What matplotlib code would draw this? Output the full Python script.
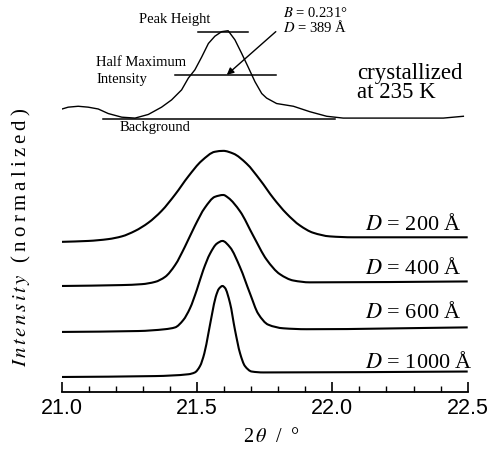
import matplotlib
matplotlib.use("Agg")
import matplotlib.pyplot as plt
from matplotlib.path import Path
from matplotlib.patches import PathPatch
import numpy as np

plt.rcParams['font.family'] = ['Liberation Serif', 'DejaVu Serif']
plt.rcParams['mathtext.fontset'] = 'stix'

# ---------------- data ----------------
# measured profile (crystallized at 235 K), intensity relative to background
meas_x = [20.99, 21.024, 21.061, 21.098, 21.135, 21.172, 21.222, 21.271, 21.320,
          21.369, 21.406, 21.443, 21.468, 21.492, 21.517, 21.542, 21.566, 21.591,
          21.615, 21.640, 21.665, 21.689, 21.714, 21.739, 21.757, 21.794, 21.856,
          21.917, 21.979, 22.040, 22.164, 22.287, 22.410, 22.484]
meas_i = [0.10, 0.13, 0.14, 0.13, 0.11, 0.06, 0.02, 0.01, 0.05,
          0.13, 0.21, 0.32, 0.45, 0.54, 0.68, 0.83, 0.91, 0.96,
          0.97, 0.87, 0.72, 0.57, 0.41, 0.28, 0.23, 0.17, 0.14,
          0.08, 0.03, 0.01, 0.01, 0.01, 0.01, 0.03]
meas_offset = 3.0

# simulated profiles
d200_x = [21.0, 21.098, 21.172, 21.222, 21.271, 21.320, 21.369, 21.419, 21.468,
          21.517, 21.566, 21.597, 21.634, 21.683, 21.733, 21.782, 21.831, 21.880,
          21.929, 21.991, 22.077, 22.5]
d200_i = [0.00, 0.01, 0.03, 0.06, 0.12, 0.21, 0.34, 0.52, 0.72,
          0.89, 0.99, 1.00, 0.97, 0.86, 0.68, 0.48, 0.31, 0.18,
          0.10, 0.06, 0.05, 0.05]

d400_x = [21.0, 21.222, 21.296, 21.345, 21.382, 21.419, 21.455, 21.492, 21.529,
          21.566, 21.597, 21.615, 21.659, 21.708, 21.757, 21.806, 21.856, 21.917, 22.5]
d400_i = [0.00, 0.01, 0.02, 0.045, 0.10, 0.23, 0.43, 0.66, 0.86,
          0.98, 1.00, 0.97, 0.82, 0.55, 0.29, 0.13, 0.06, 0.04, 0.05]

d600_x = [21.0, 21.283, 21.382, 21.419, 21.449, 21.474, 21.499, 21.523, 21.548,
          21.573, 21.594, 21.622, 21.659, 21.696, 21.726, 21.763, 21.819, 21.905, 22.5]
d600_i = [0.00, 0.01, 0.03, 0.05, 0.13, 0.26, 0.46, 0.68, 0.86,
          0.97, 1.00, 0.93, 0.71, 0.42, 0.20, 0.08, 0.04, 0.03, 0.05]

d1000_x = [21.0, 21.345, 21.468, 21.492, 21.511, 21.527, 21.542, 21.556, 21.569,
           21.581, 21.594, 21.603, 21.622, 21.640, 21.659, 21.677, 21.702, 21.745, 22.5]
d1000_i = [0.00, 0.01, 0.03, 0.05, 0.12, 0.26, 0.48, 0.70, 0.88,
           0.97, 1.00, 0.98, 0.81, 0.52, 0.26, 0.12, 0.06, 0.05, 0.06]

sim_labels = ['200', '400', '600', '1000']
sim_offsets = [1.65, 1.165, 0.66, 0.165]

x_ticks = [21.0, 21.5, 22.0, 22.5]
x_ticklabels = ['21.0', '21.5', '22.0', '22.5']


def smooth_line(ax, x, y, **kw):
    """Draw a smooth monotone cubic (Bezier) line through the given points."""
    x = np.asarray(x, float)
    y = np.asarray(y, float)
    h = np.diff(x)
    d = np.diff(y) / h
    n = len(x)
    m = np.zeros(n)
    m[0], m[-1] = d[0], d[-1]
    for i in range(1, n - 1):
        if d[i - 1] * d[i] <= 0:
            m[i] = 0.0
        else:
            w1 = 2 * h[i] + h[i - 1]
            w2 = h[i] + 2 * h[i - 1]
            m[i] = (w1 + w2) / (w1 / d[i - 1] + w2 / d[i])
    verts = [(x[0], y[0])]
    codes = [Path.MOVETO]
    for i in range(n - 1):
        verts += [(x[i] + h[i] / 3, y[i] + m[i] * h[i] / 3),
                  (x[i + 1] - h[i] / 3, y[i + 1] - m[i + 1] * h[i] / 3),
                  (x[i + 1], y[i + 1])]
        codes += [Path.CURVE4] * 3
    ax.add_patch(PathPatch(Path(verts, codes), fill=False, **kw))


# ---------------- figure ----------------
W, H = 491, 453
fig = plt.figure(figsize=(W / 100, H / 100), dpi=100)
ax = fig.add_axes([61.7 / W, 61 / H, 406 / W, 392 / H])
ax.set_xlim(21.0, 22.5)
ax.set_ylim(0, 392 / 91)

ax.plot(meas_x, np.array(meas_i) + meas_offset, color='black', lw=1.0)

sims = [(d200_x, d200_i), (d400_x, d400_i), (d600_x, d600_i), (d1000_x, d1000_i)]
for (sx, si), off in zip(sims, sim_offsets):
    smooth_line(ax, sx, np.array(si) + off, edgecolor='black', lw=1.5)

# annotation lines on the measured curve
peak = max(meas_i)
ax.plot([21.505, 21.689], [meas_offset + peak - 0.01] * 2, color='black', lw=1.1)
ax.plot([21.419, 21.792], [meas_offset + peak / 2] * 2, color='black', lw=1.1)
ax.plot([21.154, 22.01], [meas_offset] * 2, color='black', lw=1.1)
ax.annotate('', xy=(21.610, meas_offset + peak / 2), xytext=(21.791, meas_offset + peak - 0.01),
            arrowprops=dict(arrowstyle='-|>', color='black', lw=1.0, mutation_scale=10,
                            shrinkA=0, shrinkB=0))


def ftext(px, py, s, **kw):
    fig.text(px / W, 1 - py / H, s, **kw)


ftext(175, 20, 'Peak Height', fontsize=10.5, ha='center', va='center')
ftext(283, 13, r'$B$ = 0.231°', fontsize=10.5, ha='left', va='center')
ftext(283, 27, r'$D$ = 389 Å', fontsize=10.5, ha='left', va='center')
ftext(96, 71, 'Half Maximum\nIntensity', fontsize=10.5, ha='left', va='center',
      linespacing=1.3)
ftext(155, 128, 'Background', fontsize=10.5, ha='center', va='center')
ftext(357, 83, 'crystallized\nat 235 K', fontsize=16.5, ha='left', va='center',
      linespacing=0.92)

label_y = [225, 268, 312, 363]
label_x = [462, 462, 462, 473]
for lab, lx, ly in zip(sim_labels, label_x, label_y):
    ftext(lx, ly, r'$D$ = ' + lab + ' Å', fontsize=16, ha='right', va='center')

# axes styling
for s in ['left', 'top', 'right']:
    ax.spines[s].set_visible(False)
ax.spines['bottom'].set_linewidth(1.3)
ax.set_yticks([])
ax.set_xticks(x_ticks)
ax.set_xticklabels(x_ticklabels, fontfamily='Liberation Sans', fontsize=15.5)
ax.set_xticks(np.round(np.arange(21.0, 22.51, 0.1), 2), minor=True)
ax.tick_params(axis='x', which='major', direction='in', length=7, width=1.2, pad=4)
ax.tick_params(axis='x', which='minor', direction='in', length=4, width=1.0)

ts = '\u2009'
ftext(271, 437, r'2$\,\theta$  /  °', fontsize=14.5, ha='center', va='center')
ylab = r'$I\,n\,t\,e\,n\,s\,i\,t\,y$' + ts * 3 + ts.join('(normalized)')
ftext(21, 237, ylab, fontsize=15, ha='center', va='center', rotation=90)

fig.savefig('out.png', dpi=100)
